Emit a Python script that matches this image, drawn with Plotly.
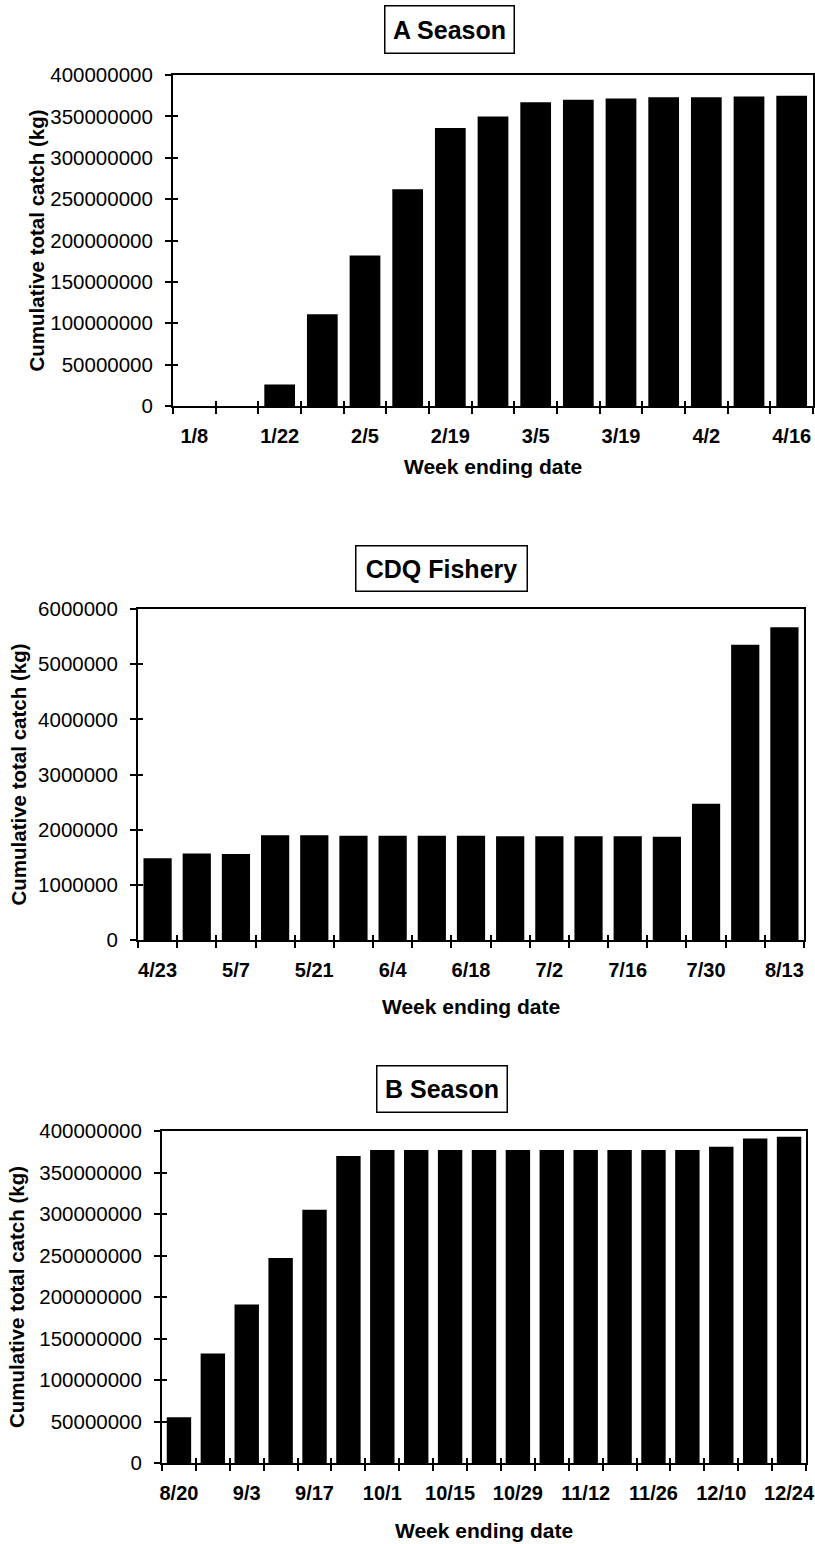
import plotly.graph_objects as go

FONT = "Liberation Sans, Arial, Helvetica, sans-serif"
W, H = 815, 1544

# ---- data -------------------------------------------------------------
A_WEEKS = ["1/8", "1/15", "1/22", "1/29", "2/5", "2/12", "2/19", "2/26",
           "3/5", "3/12", "3/19", "3/26", "4/2", "4/9", "4/16"]
A_CATCH = [0, 0, 26e6, 111e6, 182e6, 262e6, 336e6, 350e6,
           367e6, 370e6, 371.5e6, 373e6, 373e6, 374e6, 375e6]

CDQ_WEEKS = ["4/23", "4/30", "5/7", "5/14", "5/21", "5/28", "6/4", "6/11",
             "6/18", "6/25", "7/2", "7/9", "7/16", "7/23", "7/30", "8/6", "8/13"]
CDQ_CATCH = [1.48e6, 1.57e6, 1.56e6, 1.90e6, 1.90e6, 1.89e6, 1.89e6, 1.89e6,
             1.89e6, 1.88e6, 1.88e6, 1.88e6, 1.88e6, 1.87e6, 2.47e6, 5.35e6, 5.67e6]

B_WEEKS = ["8/20", "8/27", "9/3", "9/10", "9/17", "9/24", "10/1", "10/8",
           "10/15", "10/22", "10/29", "11/5", "11/12", "11/19", "11/26",
           "12/3", "12/10", "12/17", "12/24"]
B_CATCH = [55e6, 132e6, 191e6, 247e6, 305e6, 370e6, 377e6, 377e6,
           377e6, 377e6, 377e6, 377e6, 377e6, 377e6, 377e6,
           377e6, 381e6, 391e6, 393e6]

TITLES = ["A Season", "CDQ Fishery", "B Season"]
Y_MAX = [400e6, 6e6, 400e6]
Y_STEP = [50e6, 1e6, 50e6]
Y_TITLE = "Cumulative total catch (kg)"
X_TITLE = "Week ending date"

# ---- layout geometry (pixels) -----------------------------------------
# plot boxes: left, right, top, bottom
BOXES = [(173, 813, 75, 406), (138, 804, 609, 940), (162, 806, 1131, 1463)]
# title boxes: centre x, centre y, width, height
TBOX = [(449, 30, 128, 46), (441, 568, 170, 44), (442, 1089, 129, 45)]
YTITLE_X = [36, 18, 16]
XTITLE_Y = [467, 1006, 1530]


def px(x):
    return x / W


def py(y):
    return 1 - y / H


panels = [(A_WEEKS, A_CATCH), (CDQ_WEEKS, CDQ_CATCH), (B_WEEKS, B_CATCH)]

fig = go.Figure()
layout = dict(
    template="none",
    width=W, height=H,
    margin=dict(l=0, r=0, t=0, b=0, autoexpand=False),
    paper_bgcolor="white", plot_bgcolor="white",
    showlegend=False,
    font=dict(family=FONT, color="black"),
    bargap=0.28,
    annotations=[],
)

for i, (weeks, catch) in enumerate(panels):
    n = i + 1          # main axes
    m = i + 4          # overlay axes (inside half of the crossing ticks)
    left, right, top, bottom = BOXES[i]
    xdom = [px(left), px(right)]
    ydom = [py(bottom), py(top)]
    ticktext = [w if k % 2 == 0 else "" for k, w in enumerate(weeks)]
    yticks = [Y_STEP[i] * k for k in range(int(round(Y_MAX[i] / Y_STEP[i])) + 1)]

    fig.add_trace(go.Bar(
        x=weeks, y=catch,
        marker=dict(color="black", line=dict(width=0)),
        xaxis=f"x{n}", yaxis=f"y{n}",
        hovertemplate="%{x}: %{y:d} kg<extra></extra>",
    ))
    # invisible companion trace so the overlay axes share the categories
    fig.add_trace(go.Scatter(
        x=weeks, y=catch, mode="markers",
        marker=dict(opacity=0, size=1),
        xaxis=f"x{m}", yaxis=f"y{m}",
        hoverinfo="skip",
    ))

    layout[f"xaxis{n}"] = dict(
        domain=xdom, anchor=f"y{n}", type="category", automargin=False,
        range=[-0.5, len(weeks) - 0.5],
        tickmode="array", tickvals=weeks, ticktext=ticktext, tickangle=0,
        tickson="boundaries", ticks="outside", ticklen=6, tickwidth=1.5,
        tickcolor="black", ticklabelstandoff=11,
        tickfont=dict(size=20, family=FONT, weight="bold"),
        showline=True, linecolor="black", linewidth=2, mirror=True,
        showgrid=False, zeroline=False, fixedrange=True,
    )
    layout[f"yaxis{n}"] = dict(
        domain=ydom, anchor=f"x{n}", automargin=False,
        range=[0, Y_MAX[i]], tickmode="array", tickvals=yticks,
        tickformat="d", ticks="outside", ticklen=6, tickwidth=1.5,
        tickcolor="black", ticklabelstandoff=8,
        tickfont=dict(size=20.5, family=FONT),
        showline=True, linecolor="black", linewidth=2, mirror=True,
        showgrid=False, zeroline=False, fixedrange=True,
    )
    layout[f"xaxis{m}"] = dict(
        overlaying=f"x{n}", anchor=f"y{m}", type="category", automargin=False,
        range=[-0.5, len(weeks) - 0.5],
        tickmode="array", tickvals=weeks,
        tickson="boundaries", ticks="inside", ticklen=5, tickwidth=1.5,
        tickcolor="black", showticklabels=False,
        showline=False, showgrid=False, zeroline=False, fixedrange=True,
    )
    layout[f"yaxis{m}"] = dict(
        overlaying=f"y{n}", anchor=f"x{m}", side="left", automargin=False,
        range=[0, Y_MAX[i]], tickmode="array", tickvals=yticks,
        ticks="inside", ticklen=5, tickwidth=1.5, tickcolor="black",
        showticklabels=False,
        showline=False, showgrid=False, zeroline=False, fixedrange=True,
    )

    cx, cy, bw, bh = TBOX[i]
    layout["annotations"].append(dict(
        text=f"<b>{TITLES[i]}</b>", xref="paper", yref="paper",
        x=px(cx), y=py(cy), xanchor="center", yanchor="middle",
        showarrow=False, font=dict(size=25, family=FONT, color="black"),
        bordercolor="black", borderwidth=1.5, borderpad=0,
        width=bw, height=bh, bgcolor="white",
    ))
    layout["annotations"].append(dict(
        text=f"<b>{Y_TITLE}</b>", xref="paper", yref="paper",
        x=px(YTITLE_X[i]), y=py((top + bottom) / 2),
        xanchor="center", yanchor="middle", textangle=-90,
        showarrow=False, font=dict(size=20.5, family=FONT, color="black"),
    ))
    layout["annotations"].append(dict(
        text=f"<b>{X_TITLE}</b>", xref="paper", yref="paper",
        x=px((left + right) / 2), y=py(XTITLE_Y[i]),
        xanchor="center", yanchor="middle",
        showarrow=False, font=dict(size=21, family=FONT, color="black"),
    ))

fig.update_layout(**layout)

fig.write_html("out.html")
